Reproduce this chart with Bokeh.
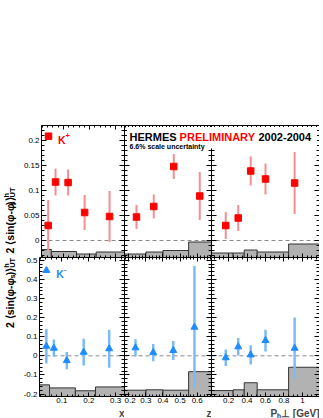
import numpy as np
from math import pi
from bokeh.plotting import figure
from bokeh.models import (Range1d, LinearAxis, FixedTicker, CustomJSTickFormatter,
                          Span, Label, BoxAnnotation, Title, ColumnDataSource)
from bokeh.layouts import row, column
from bokeh.embed import file_html
from bokeh.resources import INLINE
from bokeh.core.properties import value

# ---------------- data ----------------
x_vals = [0.042, 0.070, 0.118, 0.181, 0.276]
kp_x = [0.030, 0.117, 0.116, 0.056, 0.048]
kp_x_err = [0.051, 0.027, 0.026, 0.035, 0.051]
km_x = [0.050, 0.040, -0.025, 0.019, 0.037]
km_x_err = [0.090, 0.045, 0.045, 0.070, 0.100]

z_vals_kp = [0.245, 0.346, 0.463, 0.615]
kp_z = [0.047, 0.068, 0.148, 0.089]
kp_z_err = [0.024, 0.024, 0.025, 0.048]
z_vals_km = [0.239, 0.343, 0.460, 0.584]
km_z = [0.042, 0.017, 0.028, 0.150]
km_z_err = [0.045, 0.045, 0.050, 0.320]

pt_vals = [0.170, 0.305, 0.440, 0.600, 0.915]
kp_pt = [0.030, 0.045, 0.139, 0.123, 0.115]
kp_pt_err = [0.027, 0.026, 0.029, 0.031, 0.062]
km_pt = [-0.010, 0.047, 0.005, 0.080, 0.040]
km_pt_err = [0.043, 0.046, 0.050, 0.057, 0.160]

# systematic-uncertainty bands (bin edges and band tops)
x_edges = [0.0165, 0.054, 0.150, 0.225, 0.333]
kp_x_sys = [-0.018, -0.022, -0.027, -0.023]
km_x_sys = [-0.152, -0.168, -0.183, -0.163]
z_edges = [0.175, 0.300, 0.400, 0.550, 0.684]
kp_z_sys = [-0.027, -0.023, -0.020, -0.003]
km_z_sys = [-0.180, -0.178, -0.180, -0.083]
pt_edges = [0.016, 0.250, 0.370, 0.510, 0.850, 1.184]
kp_pt_sys = [-0.025, -0.025, -0.019, -0.023, -0.007]
km_pt_sys = [-0.182, -0.178, -0.141, -0.178, -0.060]

# axis ranges and tick labels
x_range_x = (0.0165, 0.333)
x_range_z = (0.1749, 0.6837)
x_range_pt = (0.016, 1.184)
y_range_top = (-0.034, 0.230)
y_range_bot = (-0.213, 0.5147)
x_ticks = [0.1, 0.2, 0.3]
z_ticks = [0.2, 0.3, 0.4, 0.5, 0.6]
pt_ticks = [0.2, 0.4, 0.6, 0.8, 1.0]
y_ticks_top = [0, 0.05, 0.1, 0.15, 0.2]
y_ticks_bot = [-0.2, -0.1, 0, 0.1, 0.2, 0.3, 0.4, 0.5]

# ---------------- style / layout ----------------
FONT = "Liberation Sans"
KP_COLOR = "#ff0000"
KP_BAR = "#f58f8f"
KM_COLOR = "#1e8cff"
KM_BAR = "#7bbcf5"
SYS_FILL = "#b2b2b2"
SYS_LINE = "#333333"

LAB_W = 20
BORDER_L = 18
FW_L = 86
FW_M = 87
FW_R = 108
TOP_B = 125
FH_T = 132
FH_B = 139
BOT_B = 22


def minors(lo, hi, step):
    n0 = int(np.ceil(lo / step - 1e-9))
    n1 = int(np.floor(hi / step + 1e-9))
    return [round(k * step, 6) for k in range(n0, n1 + 1)]


def add_axis(p, side, ticks, minor, labels, tin, tmin, **kw):
    ax = LinearAxis(ticker=FixedTicker(ticks=ticks, minor_ticks=minor), **kw)
    ax.axis_line_color = "black"
    ax.axis_line_width = 1
    ax.major_tick_in = tin
    ax.major_tick_out = 0
    ax.minor_tick_in = tmin
    ax.minor_tick_out = 0
    ax.major_tick_line_color = "black"
    ax.minor_tick_line_color = "black"
    if labels:
        ax.formatter = CustomJSTickFormatter(code="return (Math.round(tick*1000)/1000).toString();")
        ax.major_label_text_font = FONT
        ax.major_label_text_font_size = "8px"
        ax.major_label_text_color = "black"
        ax.major_label_standoff = 2 if side == "left" else 1
    else:
        ax.formatter = CustomJSTickFormatter(code="return '';")
        ax.major_label_text_font_size = "0px"
        ax.major_label_standoff = 0
    p.add_layout(ax, side)


def base_fig(xr, yr, fw, fh, bl, bt, bb):
    p = figure(width=fw + bl, height=fh + bt + bb, x_range=Range1d(*xr), y_range=Range1d(*yr),
               output_backend="svg", toolbar_location=None, x_axis_type=None, y_axis_type=None,
               min_border_left=bl, min_border_right=0, min_border_top=bt, min_border_bottom=bb)
    p.outline_line_color = None
    p.background_fill_color = "white"
    p.border_fill_color = "white"
    p.add_layout(Span(location=0, dimension="width", line_color="#8a8a8a",
                      line_dash="4 3", line_width=1, level="underlay"))
    p._geom = (xr, yr, fw, fh)
    return p


def make_panel(xr, yr, xt, xmin_step, yt, ymin_step, fw, fh, left_lab, bot_lab, bl, bt, bb):
    p = base_fig(xr, yr, fw, fh, bl, bt, bb)
    ym = minors(yr[0], yr[1], ymin_step)
    xm = minors(xr[0], xr[1], xmin_step)
    add_axis(p, "left", yt, ym, left_lab, 5, 3)
    add_axis(p, "right", yt, ym, False, 5, 3)
    add_axis(p, "below", xt, xm, bot_lab, 4, 2)
    add_axis(p, "above", xt, xm, False, 4, 2)
    return p


def px(p, dx, dy):
    xr, yr, fw, fh = p._geom
    return xr[0] + dx / fw * (xr[1] - xr[0]), yr[1] - dy / fh * (yr[1] - yr[0])


def sys_band(p, edges, tops, yr, **kw):
    src = ColumnDataSource(dict(left=edges[:-1], right=edges[1:], top=tops,
                                bottom=[yr[0]] * len(tops)))
    p.quad(left="left", right="right", top="top", bottom="bottom", source=src,
           fill_color=SYS_FILL, line_color=SYS_LINE, line_width=1, **kw)


def points(p, xs, ys, es, marker, color, bar, size, bw, **kw):
    ys_a = np.array(ys)
    es_a = np.array(es)
    src = ColumnDataSource(dict(x=xs, y=ys, lo=ys_a - es_a, hi=ys_a + es_a))
    p.segment(x0="x", y0="lo", x1="x", y1="hi", source=src, line_color=bar, line_width=bw, **kw)
    p.scatter(x="x", y="y", source=src, marker=marker, size=size,
              fill_color=color, line_color=color, **kw)


def label(p, dx, dy, text, color, size, style="bold", align="left"):
    x, y = px(p, dx, dy)
    p.add_layout(Label(x=x, y=y, text=text, text_color=color, text_font=FONT,
                       text_font_size=f"{size}px", text_font_style=style,
                       text_align=align, text_baseline="alphabetic"))


# ---------------- top row ----------------
tl = make_panel(x_range_x, y_range_top, x_ticks, 0.02, y_ticks_top, 0.01, FW_L, FH_T, True, False, BORDER_L, TOP_B, 0)

# middle + right top panels share one frame (so the header text can run across)
z_ext_end = x_range_z[0] + (FW_M + FW_R) / FW_M * (x_range_z[1] - x_range_z[0])
pt_ext_start = x_range_pt[0] - FW_M / FW_R * (x_range_pt[1] - x_range_pt[0])
tmr = base_fig((x_range_z[0], z_ext_end), y_range_top, FW_M + FW_R, FH_T, 0, TOP_B, 0)
tmr.extra_x_ranges = {"pt": Range1d(pt_ext_start, x_range_pt[1])}
ym_top = minors(y_range_top[0], y_range_top[1], 0.01)
zm = minors(x_range_z[0], x_range_z[1], 0.02)
ptm = minors(x_range_pt[0], x_range_pt[1], 0.05)
add_axis(tmr, "left", y_ticks_top, ym_top, False, 5, 3)
add_axis(tmr, "right", y_ticks_top, ym_top, False, 5, 3)
add_axis(tmr, "below", z_ticks, zm, False, 4, 2)
add_axis(tmr, "above", z_ticks, zm, False, 4, 2)
add_axis(tmr, "below", pt_ticks, ptm, False, 4, 2, x_range_name="pt")
add_axis(tmr, "above", pt_ticks, ptm, False, 4, 2, x_range_name="pt")
add_axis(tmr, "left", y_ticks_top, ym_top, False, 5, 3, x_range_name="pt", fixed_location=x_range_pt[0])
add_axis(tmr, "right", y_ticks_top, ym_top, False, 5, 3, x_range_name="pt", fixed_location=x_range_pt[0])

# ---------------- bottom row ----------------
bl = make_panel(x_range_x, y_range_bot, x_ticks, 0.02, y_ticks_bot, 0.02, FW_L, FH_B, True, True, BORDER_L, 0, BOT_B)
bm = make_panel(x_range_z, y_range_bot, z_ticks, 0.02, y_ticks_bot, 0.02, FW_M, FH_B, False, True, 0, 0, BOT_B)
br = make_panel(x_range_pt, y_range_bot, pt_ticks, 0.05, y_ticks_bot, 0.02, FW_R, FH_B, False, True, 0, 0, BOT_B)

# ---------------- marks ----------------
sys_band(tl, x_edges, kp_x_sys, y_range_top)
sys_band(tmr, z_edges, kp_z_sys, y_range_top)
sys_band(tmr, pt_edges, kp_pt_sys, y_range_top, x_range_name="pt")
sys_band(bl, x_edges, km_x_sys, y_range_bot)
sys_band(bm, z_edges, km_z_sys, y_range_bot)
sys_band(br, pt_edges, km_pt_sys, y_range_bot)

points(tl, x_vals, kp_x, kp_x_err, "square", KP_COLOR, KP_BAR, 6.5, 2)
points(tmr, z_vals_kp, kp_z, kp_z_err, "square", KP_COLOR, KP_BAR, 6.5, 2)
points(tmr, pt_vals, kp_pt, kp_pt_err, "square", KP_COLOR, KP_BAR, 6.5, 2, x_range_name="pt")
points(bl, x_vals, km_x, km_x_err, "triangle", KM_COLOR, KM_BAR, 7, 2.5)
points(bm, z_vals_km, km_z, km_z_err, "triangle", KM_COLOR, KM_BAR, 7, 2.5)
points(br, pt_vals, km_pt, km_pt_err, "triangle", KM_COLOR, KM_BAR, 7, 2.5)

# legends
lx, ly = px(tl, 7.3, 10.7)
tl.scatter(x=[lx], y=[ly], marker="square", size=6.5, fill_color=KP_COLOR, line_color=KP_COLOR)
label(tl, 17, 14.4, "K", KP_COLOR, 10.5)
label(tl, 24.8, 10.0, "+", KP_COLOR, 7.5)
lx, ly = px(bl, 7, 13)
bl.scatter(x=[lx], y=[ly], marker="triangle", size=7, fill_color=KM_COLOR, line_color=KM_COLOR)
label(bl, 17, 16.6, "K", KM_COLOR, 10.5)
label(bl, 24.8, 12.2, "-", KM_COLOR, 7.5)

# header box over the middle and right panels
x0, y0 = px(tmr, 2.5, 23)
x1, y1 = px(tmr, FW_M + FW_R - 2.5, 1.5)
tmr.add_layout(BoxAnnotation(left=x0, right=x1, bottom=y0, top=y1, fill_color="white",
                             fill_alpha=1.0, line_color=None, level="annotation"))
label(tmr, 5, 11.5, "HERMES", "black", 11)
label(tmr, 55.1, 11.5, "PRELIMINARY", KP_COLOR, 11)
label(tmr, 134, 11.5, "2002-2004", "black", 11)
label(tmr, 5, 20.5, "6.6% scale uncertainty", "black", 7)

# x-axis titles
for p, t in ((bl, "x"), (bm, "z"), (br, "Pₕ⊥ [GeV]")):
    p.add_layout(Title(text=t, align="right", text_font=FONT, text_font_size="10px",
                       text_font_style="bold", standoff=0, offset=0), "below")


# y-axis titles (composed, rotated)
def ylab_fig(h, top_y):
    p = figure(width=LAB_W, height=h, x_range=Range1d(0, LAB_W), y_range=Range1d(0, h),
               output_backend="svg", toolbar_location=None, x_axis_type=None, y_axis_type=None,
               min_border=0)
    p.outline_line_color = None
    p.background_fill_color = "white"
    p.border_fill_color = "white"
    c = 9
    s = top_y - 10
    pieces = [
        ("UT", c + 2.8, s, "left", "7.5px"),
        ("h", c - 3.3, s, "left", "7.5px"),
        (")⟩", c, s, "right", "10.5px"),
        ("s", c + 2.8, s - 7.6, "right", "7.5px"),
        ("2 ⟨sin(φ-φ", c, s - 7.6 - 4.2, "right", "10.5px"),
    ]
    for txt, x, y, al, fs in pieces:
        p.text(x=[x], y=[y], text=[txt], angle=pi / 2, text_font=value(FONT),
               text_font_size=value(fs), text_font_style="bold", text_align=al,
               text_baseline="middle", text_color="black")
    return p


lab_top = ylab_fig(TOP_B + FH_T, TOP_B + FH_T - 130)
lab_bot = ylab_fig(FH_B + BOT_B, FH_B + BOT_B - 2)

layout = column(row(lab_top, tl, tmr), row(lab_bot, bl, bm, br))

html = file_html(layout, INLINE)
html = html.replace("</head>", "<style>html,body{overflow:hidden;}</style></head>")
open("out.html", "w").write(html)
